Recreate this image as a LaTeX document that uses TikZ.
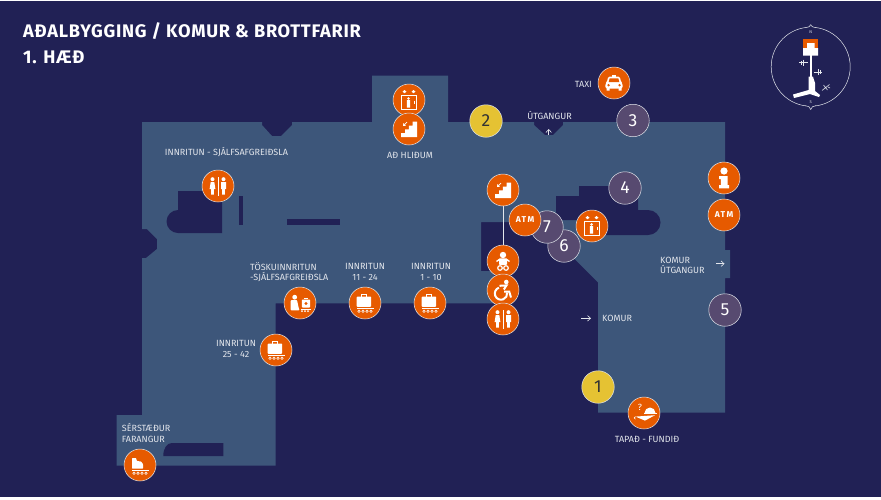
\documentclass[tikz,border=0pt]{standalone}
\usepackage{fontspec}
\setmainfont{Fira Sans}
\newfontfamily\widefont[LetterSpace=4]{Fira Sans}
\newfontfamily\atmfont[LetterSpace=16]{Fira Sans}
\usetikzlibrary{arrows.meta}
\usetikzlibrary{positioning}
\usetikzlibrary{calc}
\definecolor{nightbg}{HTML}{212155}
\definecolor{planblue}{HTML}{3D567A}
\definecolor{spotorange}{HTML}{E65A00}
\definecolor{spotgrey}{HTML}{574A70}
\definecolor{spotyellow}{HTML}{E5C233}
\definecolor{pale}{HTML}{E3E6EC}
\newcommand{\spotnode}[3]{\node(#1)[#2] at (#3) {}}
\newcommand{\numnode}[4]{\node(#1)[#2] at (#3) {#4}}
\newcommand{\wheelrow}{\fill[ic] (-8.5,5) rectangle (9.3,6);
  \foreach \w in {-6,-2,2,6} {\fill[ic] (\w,8.2) circle (1.6pt); \fill[spotorange] (\w,8.2) circle (.6pt);}}
\newcommand{\lifticon}[1]{\begin{scope}[shift={(#1)}]
  \fill[ic] (-6.5,-8.3)--(-4.5,-10)--(-2.5,-8.3)--(-4.5,-6.8)--cycle (2.5,-8.3)--(4.5,-10)--(6.5,-8.3)--(4.5,-6.8)--cycle;
  \draw[icl] (-7.5,-4.5) rectangle (7.5,9.5);
  \fill[ic] (-.5,-1.6) circle (1.4pt) (-2.2,.2) rectangle (1.2,7.5);
  \draw[icl,line width=.5] (4.8,.5)--(4.8,4);
\end{scope}}
\newcommand{\stairicon}[1]{\begin{scope}[shift={(#1)}]
  \fill[ic] (-8,8)--(-8,4.2)--(-4,4.2)--(-4,.4)--(-.2,.4)--(-.2,-3.4)--(3.6,-3.4)--(3.6,-7.5)--(8,-7.5)--(8,8)--cycle;
  \draw[icl,line width=.7,-{Straight Barb[length=2pt,width=3pt]}] (-2,-7)--(-6,-3);
\end{scope}}
\newcommand{\toileticon}[1]{\begin{scope}[shift={(#1)}]
  \fill[ic] (-5.5,-6.8) circle (2pt) (5.5,-6.8) circle (2pt);
  \fill[ic] (-7.3,-4)--(-3.7,-4)--(-2.6,3)--(-4.2,3)--(-4.2,8.5)--(-6.8,8.5)--(-6.8,3)--(-8.4,3)--cycle;
  \fill[ic] (3,-4)--(8,-4)--(8,3)--(6.9,3)--(6.9,8.5)--(4.1,8.5)--(4.1,3)--(3,3)--cycle;
  \draw[icl,line width=.8] (0,-9)--(0,9.5);
\end{scope}}
\newcommand{\taxiicon}[1]{\begin{scope}[shift={(#1)}]
  \fill[ic] (-2,-8) rectangle (2,-6);
  \fill[ic,rounded corners=1.5] (-5.8,-6.5)--(5.8,-6.5)--(7,-1)--(8.6,.5)--(8.6,5.5)--(-8.6,5.5)--(-8.6,.5)--(-7,-1)--cycle;
  \fill[ic] (-7.5,5) rectangle (-4.5,7.5) (4.5,5) rectangle (7.5,7.5);
  \fill[spotorange] (-4.4,-4.6)--(4.4,-4.6)--(5.3,-1)--(-5.3,-1)--cycle (-5.5,2.2) circle (1.3pt) (5.5,2.2) circle (1.3pt);
\end{scope}}
\newcommand{\bagicon}[1]{\begin{scope}[shift={(#1)}]
  \draw[icl] (-3.8,-6) rectangle (1.6,-8.2);
  \fill[ic,rounded corners=.8] (-8.3,-6.5) rectangle (6.2,3.8);
  \wheelrow
\end{scope}}
\newcommand{\selfbagicon}[1]{\begin{scope}[shift={(#1)}]
  \fill[ic] (-5.3,-5.8) circle (2.4pt);
  \fill[ic,rounded corners=.8] (-9.3,-3)--(-3,-3)--(-1.5,4)--(-.5,7.3)--(-9.3,7.3)--cycle;
  \fill[ic,rounded corners=.8] (1.8,-3.5) rectangle (10.2,4.5);
  \fill[ic] (4,-4) rectangle (8,-5.5);
  \fill[spotorange] (6,.5) circle (1.6pt);
  \fill[ic] (.5,5.6) rectangle (10.5,6.2);
  \foreach \w in {2,5,8} {\fill[ic] (\w,8) circle (1pt);}
\end{scope}}
\newcommand{\oddbagicon}[1]{\begin{scope}[shift={(#1)}]
  \fill[ic,rounded corners=.5] (-8,-7)--(-4,-7)--(-3,-4)--(1,-3.5)--(3,-1)--(3,3.5)--(-8,3.5)--cycle;
  \wheelrow
\end{scope}}
\newcommand{\infoicon}[1]{\begin{scope}[shift={(#1)}]
  \fill[ic] (0,-7) circle (3.6pt);
  \fill[ic] (-5,-2)--(3.5,-2)--(3.5,7)--(5,7)--(5,10.3)--(-5,10.3)--(-5,7)--(-3.2,7)--(-3.2,1)--(-5,1)--cycle;
\end{scope}}
\newcommand{\babyicon}[1]{\begin{scope}[shift={(#1)}]
  \fill[ic] (0,-6) circle (3.2pt);
  \fill[ic,rounded corners=1] (-4,-2.6) rectangle (4,4);
  \draw[icl,line width=1.4] (-6.5,.5)--(-3,-2) (6.5,.5)--(3,-2);
  \draw[icl,line width=1.2] (-3,7) circle (2.3pt) (3,7) circle (2.3pt);
\end{scope}}
\newcommand{\chairicon}[1]{\begin{scope}[shift={(#1)}]
  \fill[ic] (3.3,-8) circle (2.3pt);
  \draw[icl,line width=2] (-3.5,-4.2) -- (3.5,-4.6) -- (.8,-.5);
  \draw[icl,line width=2] (1,1.5) -- (6.2,1.5) -- (8,7.5);
  \draw[icl,line width=2] (-4.1,-2.3) arc[start angle=110,end angle=370,radius=6.2pt];
\end{scope}}
\newcommand{\losticon}[1]{\begin{scope}[shift={(#1)}]
  \node[qmark] (#1q) at (-4,-6) {?};
  \fill[ic] (.5,0) arc[start angle=180,end angle=0,radius=5.5pt] -- cycle;
  \fill[ic] (0,.3) rectangle (12.5,1);
  \fill[ic] (-8.5,3.6)--(11,2.2)--(1,7.6)--cycle;
  \draw[icl,line width=.6] (-8.5,3.6) arc[start angle=90,end angle=270,radius=1.3pt];
\end{scope}}
\begin{document}
\begin{tikzpicture}[
    x=1pt,y=-1pt,
    spot/.style={circle,minimum size=32pt,inner sep=0pt,fill=spotorange,draw=pale,line width=.5pt},
    numgrey/.style={spot,minimum size=32.5pt,fill=spotgrey,text=white,font=\fontsize{17.5}{17.5}\selectfont},
    numgold/.style={spot,minimum size=32.5pt,fill=spotyellow,text=black!80,font=\fontsize{17.5}{17.5}\selectfont},
    atm/.style={spot,text=white,font=\atmfont\bfseries\fontsize{8.5}{9}\selectfont},
    ic/.style={fill=white,draw=none},
    icl/.style={draw=white,line width=.9pt},
    qmark/.style={text=white,inner sep=0pt,font=\fontsize{9}{9}\selectfont},
    txt/.style={text=pale,inner sep=0pt,font=\fontsize{9}{10.7}\selectfont},
    headtxt/.style={text=white,inner sep=0pt,anchor=base west,font=\widefont\bfseries\fontsize{18.2}{18}\selectfont},
    plan/.style={fill=planblue,draw=none},
    hole/.style={fill=nightbg,draw=none},
    tinyarrow/.style={draw=pale,line width=.6pt,-{Straight Barb[length=3pt,width=5.5pt]}}
  ]
  \useasboundingbox (0,0) rectangle (881,499);
  \fill[nightbg] (0,.8) rectangle (880.5,497);

  \fill[plan] (142,122)--(262,122)--(262,125)--(272,136)--(281,136)--(292,125)--(292,122)
    --(372,122)--(372,75.5)--(448,75.5)--(448,122)
    --(534,122)--(534,125)--(545,135)--(553,135)--(563,125)--(563,122)
    --(725,122)--(725,250)--(730,250)--(730,278)--(725,278)--(725,412.7)--(598,412.7)--(598,282.5)
    --(538,222)--(481,222)--(481,271)--(491,271)--(494,275)--(494,303.3)
    --(275.7,303.3)--(275.7,465.7)--(116.7,465.7)--(116.7,415)--(142,415)
    --(142,258)--(146,258)--(157,249)--(157,239)--(147,229)--(142,229)--cycle;
  \fill[hole] (178,191)--(222,191)--(222,233)--(178,233) arc[start angle=270,end angle=90,radius=11.5pt]--cycle;
  \fill[hole] (239,196) rectangle (242.7,225);
  \fill[hole] (287,219) rectangle (340,225);
  \fill[hole] (163.3,456) .. controls (163.3,448) and (167,443) .. (172,443)--(223.3,443)--(223.3,456)--cycle;
  \fill[hole] (556,220)--(556,196)--(579,196)--(579,186)--(638,186)--(638,210)--(648,210)
    arc[start angle=90,end angle=-90,radius=12.5pt]--(590,235)--(590,220)--cycle;

  \node[headtxt] (title) at (23,37.5) {AÐALBYGGING / KOMUR \& BROTTFARIR};
  \node[headtxt] (floor) at (23,63.5) {1. HÆÐ};

  \node[txt] (selfcheck) at (226.5,152) {INNRITUN - SJÁLFSAFGREIÐSLA};
  \node[txt] (togates) at (410,155) {AÐ HLIÐUM};
  \node[txt,anchor=east] (taxitxt) at (592,84) {TAXI};
  \node[txt] (exittop) at (549.5,115) {ÚTGANGUR};
  \node[txt,align=left,anchor=west] (bagself) at (250,272) {TÖSKUINNRITUN\\-SJÁLFSAFGREIÐSLA};
  \node[txt,align=center] (desksb) at (365,272) {INNRITUN\\11 - 24};
  \node[txt,align=center] (desksa) at (431,272) {INNRITUN\\1 - 10};
  \node[txt,align=center] (desksc) at (236,349) {INNRITUN\\25 - 42};
  \node[txt,align=left,anchor=west] (oddbag) at (121.7,433) {SÉRSTÆÐUR\\FARANGUR};
  \node[txt,anchor=west] (arrivals) at (602,318.3) {KOMUR};
  \node[txt,align=left,anchor=west] (arrexit) at (660,265.5) {KOMUR\\ÚTGANGUR};
  \node[txt] (lost) at (647,439.3) {TAPAÐ - FUNDIÐ};

  \coordinate (exitupa) at (548.7,135);
  \coordinate (exitupb) at (548.7,129);
  \coordinate (arra) at (581.3,318.3);
  \coordinate (arrb) at (591,318.3);
  \coordinate (arrexita) at (716,263.7);
  \coordinate (arrexitb) at (724.5,263.7);
  \draw[tinyarrow] (exitupa) -- (exitupb);
  \draw[tinyarrow] (arra) -- (arrb);
  \draw[tinyarrow] (arrexita) -- (arrexitb);

  \spotnode{lifta}{spot}{409,100}; \lifticon{lifta}
  \spotnode{staira}{spot}{409,129}; \stairicon{staira}
  \spotnode{wca}{spot}{218,186}; \toileticon{wca}
  \spotnode{taxi}{spot}{614,83}; \taxiicon{taxi}
  \numnode{two}{numgold}{486,121}{2};
  \numnode{three}{numgrey}{633,120.5}{3};
  \numnode{four}{numgrey}{625,188}{4};
  \numnode{six}{numgrey}{564,246}{6};
  \numnode{seven}{numgrey}{547,227}{7};
  \numnode{atma}{atm}{525,220}{ATM};
  \spotnode{liftb}{spot}{592,226}; \lifticon{liftb}
  \spotnode{stairb}{spot}{503,190}; \stairicon{stairb}
  \spotnode{baby}{spot}{503,261}; \babyicon{baby}
  \spotnode{chair}{spot}{503,290}; \chairicon{chair}
  \spotnode{wcb}{spot}{503,319}; \toileticon{wcb}
  \spotnode{info}{spot}{724,178}; \infoicon{info}
  \numnode{atmb}{atm}{724,215}{ATM};
  \numnode{five}{numgrey}{725,310}{5};
  \numnode{one}{numgold}{598,387}{1};
  \spotnode{lostspot}{spot}{644,413}; \losticon{lostspot}
  \spotnode{bagselfdot}{spot}{300,303}; \selfbagicon{bagselfdot}
  \spotnode{bagb}{spot}{365,303}; \bagicon{bagb}
  \spotnode{baga}{spot}{430,303}; \bagicon{baga}
  \spotnode{bagc}{spot}{276,350}; \bagicon{bagc}
  \spotnode{bagodd}{spot}{140,465}; \oddbagicon{bagodd}
  \draw[draw=pale,line width=.8pt] (stairb) -- (baby);

  \node(compass)[circle,minimum size=79pt,inner sep=0pt,draw=pale,line width=.5pt] at (810.7,66.7) {};
  \fill[nightbg] (806,26.5) rectangle (815.4,28.5) (806,105) rectangle (815.4,107);
  \draw[pale,line width=.5pt] (805.5,27.7) .. controls (808.5,27.5) and (810,26.5) .. (810.7,24.7) .. controls (811.4,26.5) and (813,27.5) .. (815.9,27.7);
  \draw[pale,line width=.5pt] (805.5,105.7) .. controls (808.5,105.9) and (810,107) .. (810.7,109.5) .. controls (811.4,107) and (813,105.9) .. (815.9,105.7);
  \node[text=pale,inner sep=0pt,font=\fontsize{4}{4}\selectfont] (north) at (810.7,32.5) {N};
  \node[text=pale,inner sep=0pt,font=\fontsize{4}{4}\selectfont] (south) at (810.7,102) {S};
  \fill[spotorange] (803,38.7) rectangle (818,48);
  \fill[white] (803,48) rectangle (818,55.5) (807,43)--(814.5,43)--(814.5,48)--(807,48)--cycle;
  \fill[white] (810.2,55) rectangle (811.8,78);
  \fill[white] (808.7,76.7)--(813,76.7)--(815,83)--(815,91)--(820,95)--(819,97)--(810,94)--(794,98)--(793,94.5)--(808.7,90)--cycle;
  \draw[pale,line width=.6pt] (799,62.5)--(807.5,62.5) (803,59.5)--(803,65.5) (801,60.5)--(801,64.5);
  \draw[pale,line width=.6pt] (813.5,72)--(822,72) (818,69)--(818,75) (820,70)--(820,74);
  \draw[pale,line width=.6pt] (822,90.5)--(829.5,84.5) (823.5,85)--(827.5,90) (828,87)--(830,88);
\end{tikzpicture}
\end{document}
